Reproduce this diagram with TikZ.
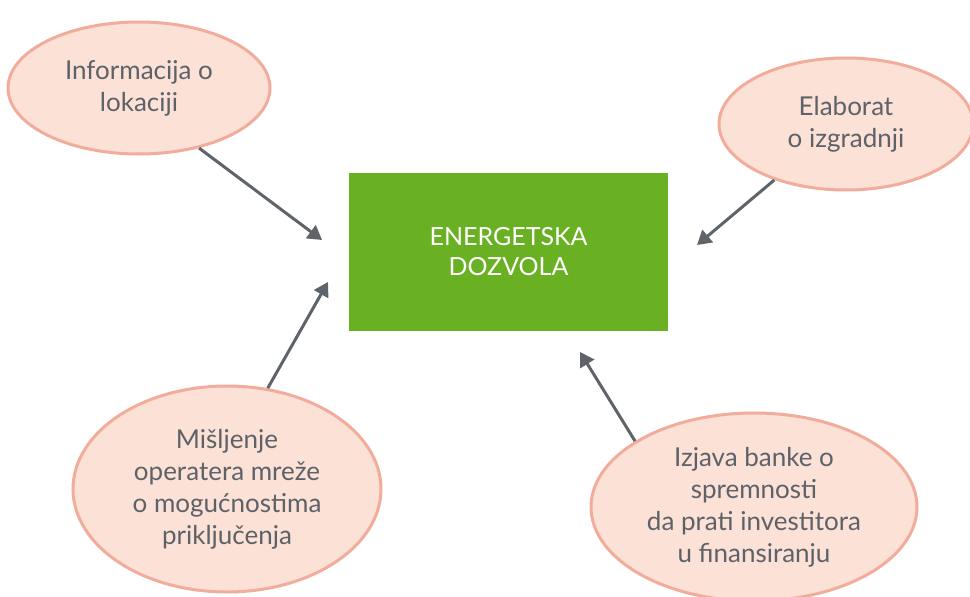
\documentclass[tikz,border=0pt]{standalone}
\usepackage{fontspec}
\setmainfont{Lato}
\usetikzlibrary{arrows.meta,positioning,shapes.geometric}
\definecolor{zelena}{HTML}{6AB023}
\definecolor{breskva}{HTML}{FBE1D6}
\definecolor{ruza}{HTML}{F2AC9C}
\definecolor{siva}{HTML}{5F636A}
\definecolor{tekst}{HTML}{5E6268}

\begin{document}
\begin{tikzpicture}[x=1pt, y=-1pt,
    uslov/.style={ellipse, draw=ruza, fill=breskva, line width=3pt, inner sep=0pt,
      align=center, text=tekst, font=\fontsize{26}{32}\selectfont},
    dozvola/.style={rectangle, fill=zelena, text=white, align=center,
      minimum width=319pt, minimum height=158pt, font=\fontsize{25}{30}\selectfont},
    strelica/.style={-{Triangle[length=14pt,width=16pt]}, draw=siva, line width=3pt}]
        \useasboundingbox (0,0) rectangle (970,597);
        \clip (0,0) rectangle (970,597);

        \node[dozvola] (ED) at (508.5,252) {ENERGETSKA\\DOZVOLA};

        \node[uslov, minimum width=262pt, minimum height=132pt] (Info) at (139,88) {Informacija o\\lokaciji};
        \node[uslov, minimum width=254pt, minimum height=132pt] (Elab) at (846,124) {Elaborat\\o izgradnji};
        \node[uslov, minimum width=308pt, minimum height=206pt] (Misl) at (227,489) {Mišljenje\\operatera mreže\\o mogućnostima\\priključenja};
        \node[uslov, minimum width=326pt, minimum height=188pt] (Izj) at (754,507) {Izjava banke o\\spremnosti\\da prati investitora\\u finansiranju};

        \coordinate (vrhA) at (322,240);
        \coordinate (vrhB) at (328,282);
        \coordinate (vrhC) at (697,245);
        \coordinate (vrhD) at (580,352);

        \draw[strelica] (Info.-45) -- (vrhA);
        \draw[strelica] (Misl.68) -- (vrhB);
        \draw[strelica] (Elab.-142) -- (vrhC);
        \draw[strelica] (Izj.151) -- (vrhD);
      \end{tikzpicture}
\end{document}
